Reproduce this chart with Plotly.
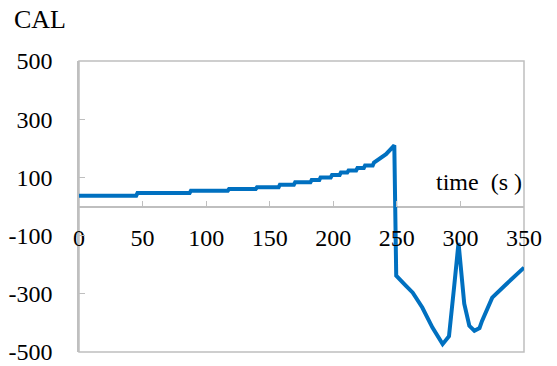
import plotly.graph_objects as go

# Data
time_s = [0, 45, 46, 87, 88, 117, 118, 139, 140, 157, 158, 169, 170, 182, 183,
          189, 190, 198, 199, 205, 206, 211, 212, 218, 219, 224, 225, 231, 232,
          236, 241.5, 248, 249.5, 257, 262.5, 270, 278, 286, 291, 295, 298.5,
          303, 307, 311, 315, 317, 325, 336, 350]
cal = [37, 37, 46, 46, 54, 54, 60, 60, 66, 66, 75, 75, 83, 83, 91,
       91, 100, 100, 108, 108, 117, 117, 124, 124, 132, 132, 141, 141, 151,
       163, 180, 210, -238, -272, -296, -347, -416, -473, -446, -278, -125,
       -334, -410, -427, -418, -393, -313, -267, -210]

y_ticks = [-500, -300, -100, 100, 300, 500]
y_tick_labels = ["-500", "-300", "-100", "100", "300", "500"]
x_ticks = [0, 50, 100, 150, 200, 250, 300, 350]
x_tick_labels = ["0", "50", "100", "150", "200", "250", "300", "350"]

AXIS_GRAY = "#BFBFBF"
FONT = "Liberation Serif"

fig = go.Figure()
fig.add_trace(go.Scatter(
    x=time_s, y=cal, mode="lines",
    line=dict(color="#0070C0", width=4),
    showlegend=False,
))

fig.update_layout(
    width=557, height=366,
    margin=dict(l=79, r=33, t=61, b=14, autoexpand=False),
    paper_bgcolor="white", plot_bgcolor="white",
    font=dict(family=FONT, size=24, color="black"),
    xaxis=dict(
        range=[0, 350], tickvals=x_ticks, ticktext=x_tick_labels,
        showgrid=False, zeroline=False, automargin=False,
        showline=False,
        ticks="inside", ticklen=6, tickcolor=AXIS_GRAY, tickwidth=1,
        anchor="free", position=0.5, ticklabelstandoff=14,
        tickfont=dict(family=FONT, size=24),
    ),
    yaxis=dict(
        range=[-500, 500], tickvals=y_ticks, ticktext=y_tick_labels,
        showgrid=False, zeroline=True, zerolinecolor=AXIS_GRAY,
        zerolinewidth=1.5, automargin=False,
        showline=True, linecolor=AXIS_GRAY, linewidth=1.5,
        ticks="inside", ticklen=6, tickcolor=AXIS_GRAY, tickwidth=1,
        ticklabelstandoff=20, tickfont=dict(family=FONT, size=24),
    ),
    shapes=[dict(type="rect", xref="x domain", yref="y domain",
                 x0=0, x1=1, y0=0, y1=1,
                 line=dict(color=AXIS_GRAY, width=1.5), layer="below")],
    annotations=[
        dict(text="CAL", xref="paper", yref="paper", x=-0.151, y=1.144,
             xanchor="left", yanchor="middle", showarrow=False,
             font=dict(family=FONT, size=26)),
        dict(text="time  (s )", xref="paper", yref="paper", x=1.0, y=0.584,
             xanchor="right", yanchor="middle", showarrow=False,
             font=dict(family=FONT, size=24)),
    ],
)

fig.write_html("out.html")
